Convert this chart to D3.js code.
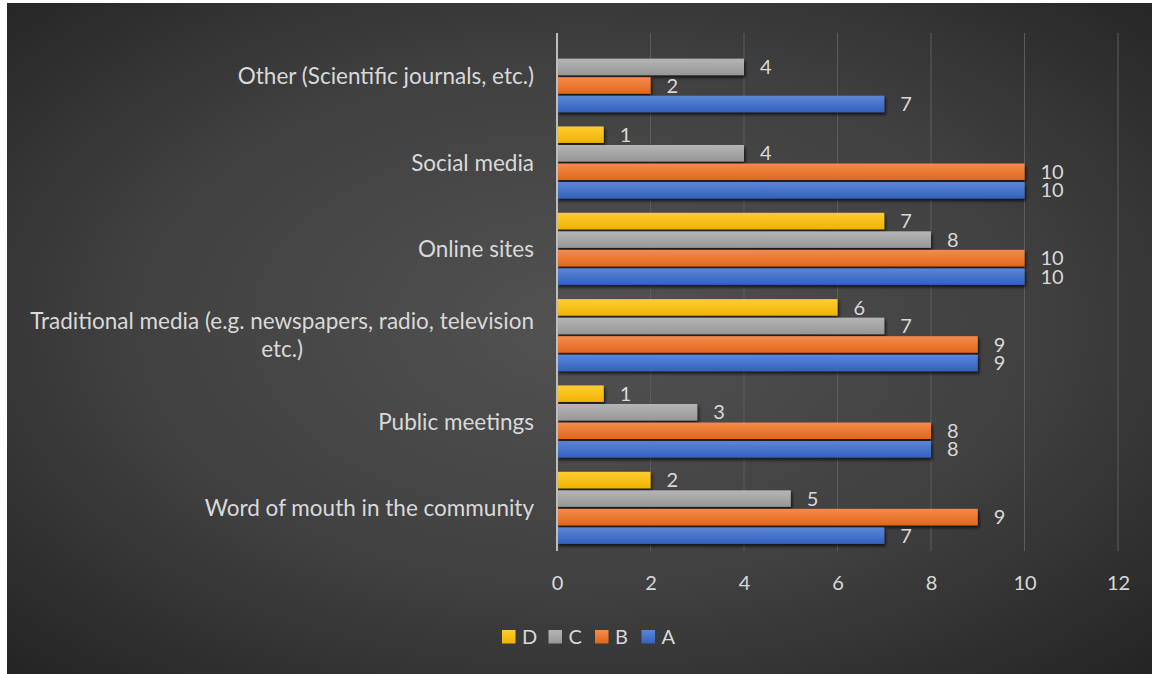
<!DOCTYPE html>
<html>
<head>
<meta charset="utf-8">
<script src="https://cdn.jsdelivr.net/npm/d3@7"></script>
<style>
  html, body { margin: 0; padding: 0; background: #ffffff; }
  svg { display: block; }
  text { font-family: Lato, "Open Sans", sans-serif; fill: #d9d9d9; }
</style>
</head>
<body>
<svg id="chart" width="1152" height="674"></svg>
<script>
// Categories, top to bottom
const categories = [
  "Other (Scientific journals, etc.)",
  "Social media",
  "Online sites",
  "Traditional media (e.g. newspapers, radio, television etc.)",
  "Public meetings",
  "Word of mouth in the community"
];
// Series, drawn top to bottom inside each category group
const seriesNames = ["D", "C", "B", "A"];
const valuesD = [null, 1, 7, 6, 1, 2];
const valuesC = [4, 4, 8, 7, 3, 5];
const valuesB = [2, 10, 10, 9, 8, 9];
const valuesA = [7, 10, 10, 9, 8, 7];
const xTicks = [0, 2, 4, 6, 8, 10, 12];

const seriesValues = { D: valuesD, C: valuesC, B: valuesB, A: valuesA };
const seriesColors = {
  D: ["#ffcd33", "#efb300"],
  C: ["#b5b5b5", "#979797"],
  B: ["#f58b4c", "#e0671c"],
  A: ["#5d86d6", "#3261bd"]
};
const legendOrder = ["D", "C", "B", "A"];

const svg = d3.select("#chart");
const defs = svg.append("defs");

// Background: dark radial fill
const bg = defs.append("radialGradient").attr("id", "bgGrad")
  .attr("cx", "50%").attr("cy", "48%").attr("r", "72%");
bg.append("stop").attr("offset", "0%").attr("stop-color", "#525252");
bg.append("stop").attr("offset", "55%").attr("stop-color", "#404040");
bg.append("stop").attr("offset", "100%").attr("stop-color", "#242424");

seriesNames.forEach(s => {
  const g = defs.append("linearGradient").attr("id", "grad" + s)
    .attr("x1", 0).attr("y1", 0).attr("x2", 0).attr("y2", 1);
  g.append("stop").attr("offset", "0%").attr("stop-color", seriesColors[s][0]);
  g.append("stop").attr("offset", "100%").attr("stop-color", seriesColors[s][1]);
});

const shadow = defs.append("filter").attr("id", "barShadow")
  .attr("x", "-5%").attr("y", "-30%").attr("width", "115%").attr("height", "190%");
shadow.append("feDropShadow").attr("dx", 1.5).attr("dy", 2.5)
  .attr("stdDeviation", 1.6).attr("flood-color", "#000").attr("flood-opacity", 0.7);

svg.append("rect").attr("x", 7).attr("y", 3).attr("width", 1145).attr("height", 671)
  .attr("fill", "url(#bgGrad)");

// Plot area
const plot = { left: 557, right: 1118, top: 33, bottom: 551 };

const x = d3.scaleLinear().domain([0, 12]).range([plot.left, plot.right]);
const y0 = d3.scaleBand().domain(categories).range([plot.top, plot.bottom]).paddingInner(0.165).paddingOuter(0.0825);
const y1 = d3.scaleBand().domain(seriesNames).range([0, y0.bandwidth()]).paddingInner(0.11).paddingOuter(0);

// Vertical gridlines
svg.append("g").selectAll("line").data(xTicks.slice(1)).join("line")
  .attr("x1", d => x(d)).attr("x2", d => x(d))
  .attr("y1", plot.top).attr("y2", plot.bottom)
  .attr("stroke", "#5c5c5c").attr("stroke-width", 1);

// Bars
const groups = svg.append("g").selectAll("g").data(categories).join("g")
  .attr("transform", d => `translate(0,${y0(d)})`);

const barData = (cat, i) => seriesNames
  .map(s => ({ s, v: seriesValues[s][i] }))
  .filter(d => d.v != null);

groups.each(function (cat, i) {
  const g = d3.select(this);
  const data = barData(cat, i);
  g.selectAll("rect").data(data).join("rect")
    .attr("x", x(0))
    .attr("y", d => y1(d.s))
    .attr("width", d => x(d.v) - x(0))
    .attr("height", y1.bandwidth())
    .attr("fill", d => `url(#grad${d.s})`)
    .attr("filter", "url(#barShadow)");
  g.selectAll("text.val").data(data).join("text")
    .attr("class", "val")
    .attr("x", d => x(d.v) + 16)
    .attr("y", d => y1(d.s) + y1.bandwidth() / 2)
    .attr("dy", "0.36em")
    .attr("font-size", 20)
    .text(d => d.v);
});

// Baseline of the value axis
svg.append("line")
  .attr("x1", x(0)).attr("x2", x(0))
  .attr("y1", plot.top).attr("y2", plot.bottom)
  .attr("stroke", "#bdbdbd").attr("stroke-width", 2);

// Value axis tick labels
const xAxis = d3.axisBottom(x).tickValues(xTicks).tickSize(0).tickPadding(0);
const xg = svg.append("g").attr("transform", `translate(0,${plot.bottom})`).call(xAxis);
xg.select(".domain").remove();
xg.selectAll("text").attr("y", 32).attr("dy", "0.36em")
  .attr("font-size", 20).attr("fill", "#d9d9d9")
  .attr("font-family", "Lato, 'Open Sans', sans-serif");

// Category labels (wrapped where they are too long)
const labelRight = 534;
const maxWidth = 515;
const catFont = 22.5;
const catLabels = svg.append("g");
const measure = s => {
  const p = catLabels.append("text").attr("font-size", catFont).text(s);
  const w = p.node().getComputedTextLength();
  p.remove();
  return w;
};
categories.forEach(cat => {
  const t = catLabels.append("text")
    .attr("text-anchor", "middle")
    .attr("font-size", catFont);
  const words = cat.split(" ");
  const lines = [];
  let line = [];
  words.forEach(w => {
    const test = line.concat([w]).join(" ");
    if (measure(test) > maxWidth && line.length) {
      lines.push(line.join(" "));
      line = [w];
    } else {
      line.push(w);
    }
  });
  lines.push(line.join(" "));
  // widest line sets one right-aligned block; lines are centred within it
  const widest = d3.max(lines, measure);
  const cx = labelRight - widest / 2;
  const cy = y0(cat) + y0.bandwidth() / 2;
  const lh = 28;
  lines.forEach((l, k) => {
    t.append("tspan")
      .attr("x", cx)
      .attr("y", cy + (k - (lines.length - 1) / 2) * lh)
      .attr("dy", "0.36em")
      .text(l);
  });
});

// Legend
const legend = svg.append("g").attr("transform", "translate(502,630)");
const items = legend.selectAll("g").data(legendOrder).join("g")
  .attr("transform", (d, i) => `translate(${i * 46.5},0)`);
items.append("rect").attr("width", 13.5).attr("height", 13.5)
  .attr("fill", d => `url(#grad${d})`);
items.append("text").attr("x", 20).attr("y", 7).attr("dy", "0.36em")
  .attr("font-size", 20).text(d => d);
</script>
</body>
</html>
